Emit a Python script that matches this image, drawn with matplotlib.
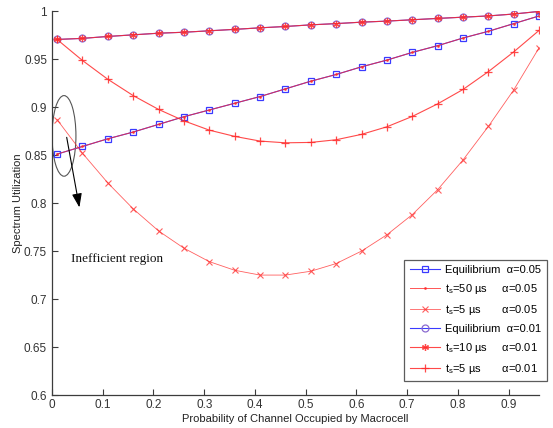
import numpy as np
import matplotlib
matplotlib.use('Agg')
import matplotlib.pyplot as plt
from matplotlib.patches import Ellipse

plt.rcParams['font.family'] = ['Liberation Sans', 'DejaVu Sans']
plt.rcParams['mathtext.fontset'] = 'custom'
plt.rcParams['mathtext.rm'] = 'Liberation Sans'
plt.rcParams['mathtext.it'] = 'Liberation Sans'

# probability of channel occupied by macrocell
p = [0.01, 0.06, 0.11, 0.16, 0.21, 0.26, 0.31, 0.36, 0.41, 0.46,
     0.51, 0.56, 0.61, 0.66, 0.71, 0.76, 0.81, 0.86, 0.91, 0.96]

eq_005 = [0.851, 0.859, 0.867, 0.874, 0.882, 0.890, 0.897, 0.904, 0.911, 0.919,
          0.927, 0.934, 0.942, 0.949, 0.957, 0.964, 0.972, 0.979, 0.987, 0.995]
ts50_005 = [0.851, 0.859, 0.867, 0.874, 0.882, 0.890, 0.897, 0.904, 0.911, 0.919,
            0.927, 0.934, 0.942, 0.949, 0.957, 0.964, 0.972, 0.979, 0.987, 0.995]
ts5_005 = [0.887, 0.852, 0.821, 0.794, 0.771, 0.753, 0.739, 0.730, 0.725, 0.725,
           0.729, 0.737, 0.750, 0.767, 0.788, 0.814, 0.845, 0.880, 0.918, 0.962]
eq_001 = [0.9705, 0.9716, 0.9736, 0.9753, 0.977, 0.978, 0.9795, 0.981, 0.9826, 0.984,
          0.9857, 0.987, 0.9885, 0.9896, 0.991, 0.9924, 0.9937, 0.995, 0.997, 0.9997]
ts10_001 = [0.9705, 0.9716, 0.9736, 0.9753, 0.977, 0.978, 0.9795, 0.981, 0.9826, 0.984,
            0.9857, 0.987, 0.9885, 0.9896, 0.991, 0.9924, 0.9937, 0.995, 0.997, 0.9997]
ts5_001 = [0.9705, 0.9486, 0.929, 0.912, 0.8976, 0.8857, 0.876, 0.8695, 0.8646, 0.8628,
           0.8632, 0.866, 0.8716, 0.8795, 0.8903, 0.9034, 0.9184, 0.937, 0.9576, 0.980]

names = ['Equilibrium', 't$_{\\rm s}$=50 \u00b5s', 't$_{\\rm s}$=5 \u00b5s',
         'Equilibrium', 't$_{\\rm s}$=10 \u00b5s', 't$_{\\rm s}$=5 \u00b5s']
alphas = ['\u03b1=0.05', '\u03b1=0.05', '\u03b1=0.05', '\u03b1=0.01', '\u03b1=0.01', '\u03b1=0.01']

blue = '#3a3aff'
red = '#ff2a2a'
axc = '#3c3c3c'
leg_fs = 8

fig = plt.figure(figsize=(5.53, 4.28), dpi=100)
ax = fig.add_axes([0.094, 0.077, 0.881, 0.897])

h1, = ax.plot(p, eq_005, color=blue, lw=0.8, marker='s', ms=4.2, mfc='none', mec=blue, mew=0.9)
h2, = ax.plot(p, ts50_005, color=red, lw=0.7, alpha=0.8, marker='.', ms=2)
h3, = ax.plot(p, ts5_005, color=red, lw=0.6, alpha=0.75, marker='x', ms=4, mew=0.8)
h4, = ax.plot(p, eq_001, color=blue, lw=0.8, marker='o', ms=5, mfc='none', mec='#8a6ad0', mew=0.9)
h5, = ax.plot(p, ts10_001, color=red, lw=0.8, alpha=0.85, marker=(6, 2, 0), ms=5, mew=0.9)
h6, = ax.plot(p, ts5_001, color=red, lw=0.8, alpha=0.85, marker='+', ms=6, mew=0.9)

ax.set_xlim(0, 0.96)
ax.set_ylim(0.6, 1.0)
ax.set_xticks(np.arange(0, 0.91, 0.1))
ax.set_xticklabels(['0', '0.1', '0.2', '0.3', '0.4', '0.5', '0.6', '0.7', '0.8', '0.9'])
ax.set_yticks(np.arange(0.6, 1.001, 0.05))
ax.set_yticklabels(['0.6', '0.65', '0.7', '0.75', '0.8', '0.85', '0.9', '0.95', '1'])
for s in ['top', 'right']:
    ax.spines[s].set_visible(False)
for s in ['left', 'bottom']:
    ax.spines[s].set_color(axc)
    ax.spines[s].set_linewidth(0.9)
ax.tick_params(direction='in', length=4, width=0.8, color=axc, labelsize=8.5, labelcolor='#333333')
ax.tick_params(axis='x', pad=3)

ax.set_xlabel('Probability of Channel Occupied by Macrocell', fontsize=8, color='#222222', labelpad=2)
ax.set_ylabel('Spectrum Utilization', fontsize=8, color='#222222', labelpad=1)

# annotation
ax.add_patch(Ellipse((0.0237, 0.870), 0.047, 0.084, fill=False, edgecolor='#555555', lw=0.8))
ax.annotate('', xy=(0.054, 0.7955), xytext=(0.029, 0.8685),
            arrowprops=dict(arrowstyle='-|>,head_length=0.7,head_width=0.25', color='black',
                            lw=0.8, mutation_scale=12, shrinkA=0, shrinkB=0))
ax.text(0.0375, 0.742, 'Inefficient region', family=['Liberation Serif'], fontsize=9.5,
        va='center', ha='left', color='#111111')

# pad the names with spaces so the alpha column lines up
renderer = fig.canvas.get_renderer()
def text_w(s):
    t = fig.text(0, 0, s, fontsize=leg_fs)
    w = t.get_window_extent(renderer).width
    t.remove()
    return w

space_w = text_w('a a') - text_w('aa')
widths = [text_w(n) for n in names]
target = max(widths) + 1.5 * space_w
labels = []
for n, w, a in zip(names, widths, alphas):
    k = max(1, int(round((target - w) / space_w)))
    labels.append(n + ' ' * k + a)

leg = fig.legend([h1, h2, h3, h4, h5, h6], labels,
                 loc='upper right', bbox_to_anchor=(0.989, 0.393), borderaxespad=0,
                 fontsize=leg_fs, frameon=True, fancybox=False, edgecolor='#333333',
                 handlelength=2.7, handletextpad=0.5,
                 labelspacing=0.62, borderpad=0.5)
leg.get_frame().set_linewidth(0.9)

fig.savefig('out.png', dpi=100)
